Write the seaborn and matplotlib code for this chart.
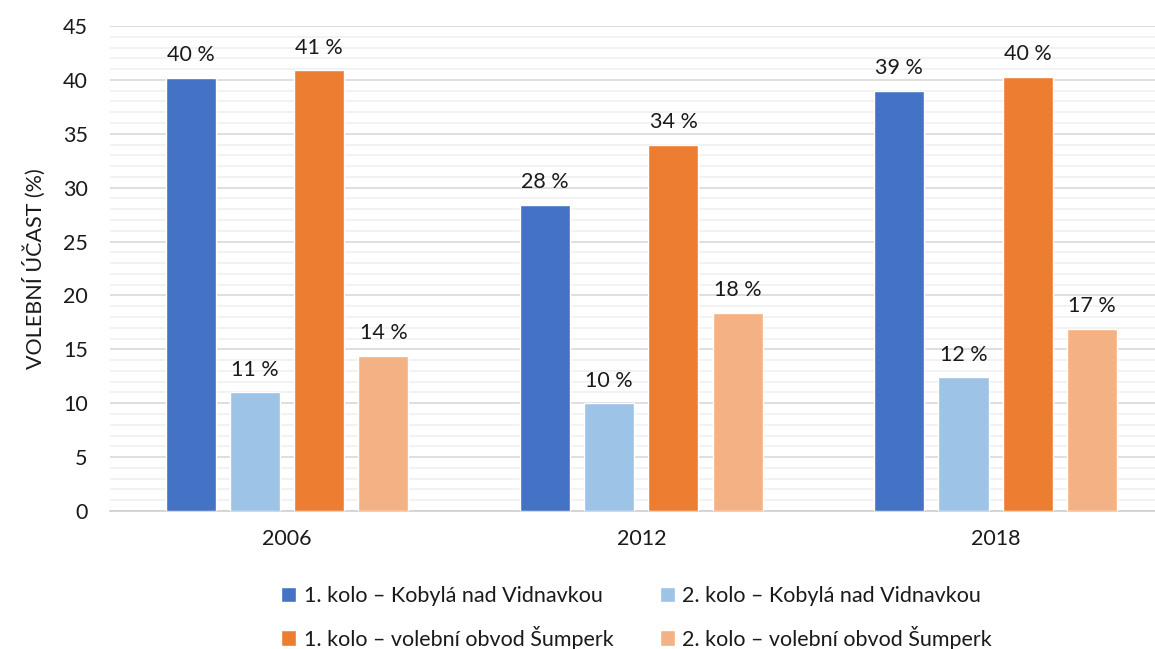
import matplotlib
matplotlib.use("Agg")
import matplotlib.pyplot as plt
from matplotlib.ticker import MultipleLocator
import pandas as pd
import seaborn as sns

years = ["2006", "2012", "2018"]
series = [
    "1. kolo – Kobylá nad Vidnavkou",
    "2. kolo – Kobylá nad Vidnavkou",
    "1. kolo – volební obvod Šumperk",
    "2. kolo – volební obvod Šumperk",
]
kolo1_kobyla = [40.2, 28.4, 39.0]
kolo2_kobyla = [11.0, 10.0, 12.4]
kolo1_sumperk = [40.9, 34.0, 40.3]
kolo2_sumperk = [14.4, 18.4, 16.9]
colors = ["#4472C4", "#9DC3E6", "#ED7D31", "#F4B183"]

rows = []
for name, vals in zip(series, [kolo1_kobyla, kolo2_kobyla, kolo1_sumperk, kolo2_sumperk]):
    for y, v in zip(years, vals):
        rows.append({"rok": y, "řada": name, "účast": v})
df = pd.DataFrame(rows)

sns.set_theme(style="white")
plt.rcParams["font.family"] = ["Lato", "DejaVu Sans"]
FS = 15.5
TXT = "#1a1a1a"

fig = plt.figure(figsize=(11.55, 6.49), dpi=100)
ax = fig.add_axes([0.0952, 0.2126, 0.9048, 0.7474])

sns.barplot(data=df, x="rok", y="účast", hue="řada", hue_order=series,
            palette=colors, width=0.725, gap=0.22, saturation=1,
            errorbar=None, ax=ax, zorder=3)

for cont in ax.containers:
    ax.bar_label(cont, labels=[f"{round(b.get_height())} %" for b in cont],
                 padding=9, fontsize=FS, color=TXT)

ax.set_ylim(0, 45)
ax.set_xlim(-0.5, 2.45)
ax.yaxis.set_major_locator(MultipleLocator(5))
ax.yaxis.set_minor_locator(MultipleLocator(1))
ax.grid(axis="y", which="major", color="#d9d9d9", linewidth=1.2, zorder=0)
ax.grid(axis="y", which="minor", color="#f0f0f0", linewidth=1.2, zorder=0)
ax.set_axisbelow(True)
for s in ["left", "right", "top"]:
    ax.spines[s].set_visible(False)
ax.spines["bottom"].set_color("#d0d0d0")
ax.spines["bottom"].set_linewidth(1.2)
ax.tick_params(axis="both", which="both", length=0, labelsize=FS, colors=TXT)
ax.tick_params(axis="x", pad=13)
ax.tick_params(axis="y", pad=16)
ax.set_xlabel("")
ax.set_ylabel("VOLEBNÍ ÚČAST (%)", fontsize=FS, color=TXT, labelpad=12)

# legend rows: first round on top, second round below
handles, labels = ax.get_legend_handles_labels()
ax.get_legend().remove()
order = [0, 2, 1, 3]
fig.legend([handles[i] for i in order], [labels[i] for i in order], ncol=2,
           loc="center", bbox_to_anchor=(0.551, 0.048),
           frameon=False, fontsize=FS, handlelength=0.7, handleheight=0.7,
           handletextpad=0.35, columnspacing=2.15, labelspacing=0.9,
           labelcolor=TXT)

fig.savefig("out.png", dpi=100)
